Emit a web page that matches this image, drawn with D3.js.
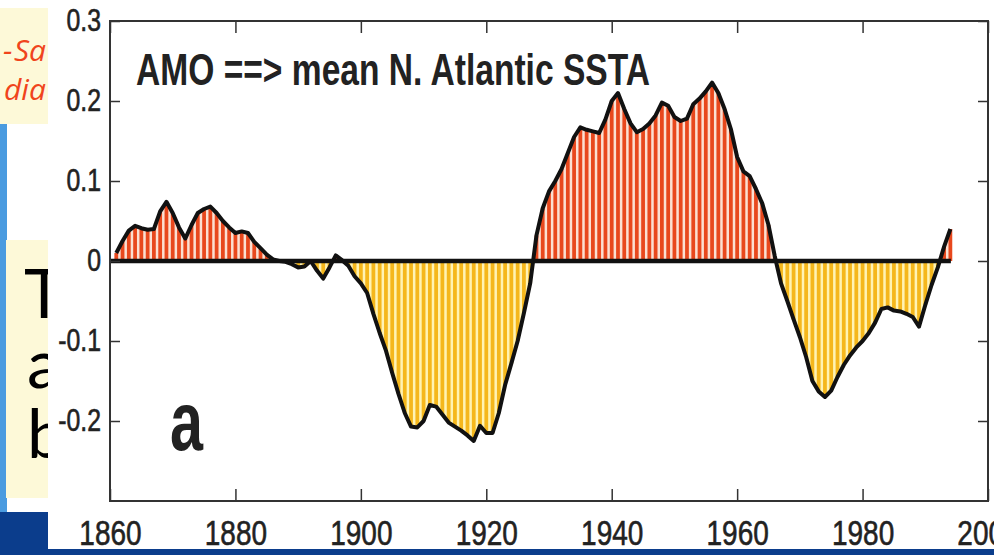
<!DOCTYPE html>
<html>
<head>
<meta charset="utf-8">
<script src="https://cdn.jsdelivr.net/npm/d3@7"></script>
<style>
  body { margin: 0; background: #fff; overflow: hidden; }
</style>
</head>
<body>
<script>
const width = 994;
const height = 555;
const margin = ({top: 21, right: 6, bottom: 54, left: 110});

// smoothed AMO index, one value per year from 1861
const years = d3.range(1861, 1995);
const amo = [
  0.010, 0.025, 0.038, 0.044, 0.041, 0.039, 0.040, 0.062, 0.074, 0.060,
  0.042, 0.028, 0.045, 0.060, 0.065, 0.068, 0.060, 0.050, 0.042, 0.035,
  0.037, 0.035, 0.024, 0.016, 0.008, 0.002, 0.000, -0.001, -0.004, -0.008,
  -0.007, 0.000, -0.012, -0.022, -0.008, 0.007, 0.001, -0.006, -0.019, -0.028,
  -0.040, -0.066, -0.090, -0.112, -0.140, -0.166, -0.190, -0.207, -0.208, -0.200,
  -0.180, -0.182, -0.192, -0.202, -0.207, -0.212, -0.218, -0.225, -0.206, -0.215,
  -0.215, -0.190, -0.155, -0.128, -0.100, -0.065, -0.028, 0.032, 0.066, 0.087,
  0.100, 0.115, 0.135, 0.155, 0.167, 0.164, 0.162, 0.160, 0.177, 0.200,
  0.210, 0.190, 0.172, 0.161, 0.165, 0.172, 0.182, 0.198, 0.194, 0.180,
  0.175, 0.178, 0.196, 0.203, 0.212, 0.223, 0.210, 0.190, 0.165, 0.130,
  0.112, 0.106, 0.090, 0.072, 0.045, 0.006, -0.028, -0.050, -0.073, -0.095,
  -0.120, -0.150, -0.163, -0.170, -0.162, -0.145, -0.130, -0.118, -0.108, -0.100,
  -0.090, -0.077, -0.060, -0.058, -0.062, -0.063, -0.066, -0.070, -0.082, -0.055,
  -0.030, -0.008, 0.018, 0.040
];
const xTicks = [1860, 1880, 1900, 1920, 1940, 1960, 1980, 2000];
const yTicks = [-0.2, -0.1, 0, 0.1, 0.2, 0.3];
const title = "AMO ==> mean N. Atlantic SSTA";
const panel = "a";
// slide text peeking out behind the figure
const slideRed = ["Sa", "dia"];
const slideBlack = ["T", "a", "b"];

const data = years.map((yr, i) => ({year: yr, value: amo[i]}));

const svg = d3.select("body")
  .append("svg")
  .attr("width", width)
  .attr("height", height);

// --- bits of the slide behind the figure ---
svg.append("defs").append("clipPath").attr("id", "slide")
  .append("rect").attr("x", 0).attr("y", 0).attr("width", 48).attr("height", height);

const slide = svg.append("g").attr("clip-path", "url(#slide)");
slide.append("rect").attr("x", 0).attr("y", 122).attr("width", 7).attr("height", 392).attr("fill", "#4a9be0");
slide.append("rect").attr("x", 0).attr("y", 8).attr("width", 52).attr("height", 116).attr("fill", "#fdf9d8");
slide.append("rect").attr("x", 6).attr("y", 240).attr("width", 46).attr("height", 258).attr("fill", "#fdf9d8");
slide.append("text").attr("x", 3).attr("y", 61)
  .attr("font-family", "'Open Sans', sans-serif").attr("font-style", "italic")
  .attr("font-size", 30).attr("fill", "#f0441c").text("- ");
slideRed.forEach((t, i) => {
  slide.append("text").attr("x", i === 0 ? 14 : 4).attr("y", 61 + i * 39)
    .attr("font-family", "'Open Sans', sans-serif").attr("font-style", "italic")
    .attr("font-size", 30).attr("fill", "#f0441c").text(t);
});
slideBlack.forEach((t, i) => {
  slide.append("text").attr("x", i === 0 ? 24 : 27).attr("y", 318 + i * 70)
    .attr("font-family", "Lato, 'Noto Sans', sans-serif")
    .attr("font-size", 68).attr("fill", "#000").text(t);
});
slide.append("rect").attr("x", 0).attr("y", 512).attr("width", 52).attr("height", 43).attr("fill", "#0b3d8c");

// white figure on top of the slide
svg.append("rect").attr("x", 48).attr("y", 0).attr("width", width - 48).attr("height", 549).attr("fill", "#fff");
svg.append("rect").attr("x", 0).attr("y", 549).attr("width", width).attr("height", 6).attr("fill", "#0b3d8c");

// --- scales ---
const x = d3.scaleLinear()
  .domain([1860, 2000])
  .range([margin.left, width - margin.right]);

const y = d3.scaleLinear()
  .domain([-0.3, 0.3])
  .range([height - margin.bottom, margin.top]);

const defs = svg.append("defs");
defs.append("clipPath").attr("id", "pos")
  .append("rect").attr("x", 0).attr("y", 0).attr("width", width).attr("height", y(0));
defs.append("clipPath").attr("id", "neg")
  .append("rect").attr("x", 0).attr("y", y(0)).attr("width", width).attr("height", height - y(0));

const area = d3.area()
  .x(d => x(d.year))
  .y0(y(0))
  .y1(d => y(d.value));

svg.append("path").datum(data).attr("clip-path", "url(#pos)")
  .attr("d", area).attr("fill", "#fbe0d2");
svg.append("path").datum(data).attr("clip-path", "url(#neg)")
  .attr("d", area).attr("fill", "#fff3b4");

// yearly stripes
const step = x(1) - x(0);
const bw = step * 0.6;
svg.append("g")
  .selectAll("rect")
  .data(data)
  .join("rect")
  .attr("x", d => x(d.year) - bw / 2)
  .attr("y", d => y(Math.max(d.value, 0)))
  .attr("width", bw)
  .attr("height", d => Math.abs(y(d.value) - y(0)))
  .attr("fill", d => d.value >= 0 ? "#e8481d" : "#f5b71c");

// outline + zero line
svg.append("path").datum(data)
  .attr("fill", "none")
  .attr("stroke", "#111")
  .attr("stroke-width", 4)
  .attr("stroke-linejoin", "round")
  .attr("d", d3.line().x(d => x(d.year)).y(d => y(d.value)));

svg.append("line")
  .attr("x1", x(1860)).attr("x2", x(years[years.length - 1]) + 0.5)
  .attr("y1", y(0)).attr("y2", y(0))
  .attr("stroke", "#111").attr("stroke-width", 4.5);

// --- axes ---
const fmt = d => d === 0 ? "0" : d.toFixed(1);

const gx = svg.append("g")
  .attr("transform", `translate(0,${y(-0.3)})`)
  .call(d3.axisBottom(x).tickValues(xTicks).tickSize(-12).tickPadding(19).tickFormat(d3.format("d")));
svg.append("g")
  .attr("transform", `translate(0,${y(0.3)})`)
  .call(d3.axisTop(x).tickValues(xTicks).tickSize(-12).tickFormat(""));
const gy = svg.append("g")
  .attr("transform", `translate(${x(1860)},0)`)
  .call(d3.axisLeft(y).tickValues(yTicks).tickSize(-10).tickPadding(9).tickFormat(fmt));
svg.append("g")
  .attr("transform", `translate(${x(2000)},0)`)
  .call(d3.axisRight(y).tickValues(yTicks).tickSize(-10).tickFormat(""));

svg.selectAll(".domain").remove();
svg.selectAll(".tick line").attr("stroke", "#333").attr("stroke-width", 1.5);

gx.selectAll("text")
  .attr("font-family", "'Liberation Sans', Arial, sans-serif")
  .attr("font-size", 35).attr("fill", "#222")
  .attr("stroke", "#222").attr("stroke-width", 0.6);
gy.selectAll("text")
  .attr("font-family", "'Liberation Sans', Arial, sans-serif")
  .attr("font-size", 31).attr("fill", "#222")
  .attr("stroke", "#222").attr("stroke-width", 0.6);
svg.selectAll(".tick text").each(function() {
  const w = this.getComputedTextLength();
  d3.select(this).attr("textLength", w * 0.8).attr("lengthAdjust", "spacingAndGlyphs");
});

// frame
svg.append("rect")
  .attr("x", x(1860)).attr("y", y(0.3))
  .attr("width", x(2000) - x(1860)).attr("height", y(-0.3) - y(0.3))
  .attr("fill", "none").attr("stroke", "#333").attr("stroke-width", 2);

// labels inside the plot
svg.append("text")
  .attr("x", 136).attr("y", 85)
  .attr("font-family", "'Liberation Sans', Arial, sans-serif")
  .attr("font-weight", "bold").attr("font-size", 44).attr("fill", "#222")
  .attr("textLength", 514).attr("lengthAdjust", "spacingAndGlyphs")
  .text(title);

svg.append("text")
  .attr("x", 170).attr("y", 450)
  .attr("font-family", "'Liberation Sans', Arial, sans-serif")
  .attr("font-weight", "bold").attr("font-size", 84).attr("fill", "#222")
  .attr("textLength", 33).attr("lengthAdjust", "spacingAndGlyphs")
  .text(panel);
</script>
</body>
</html>
